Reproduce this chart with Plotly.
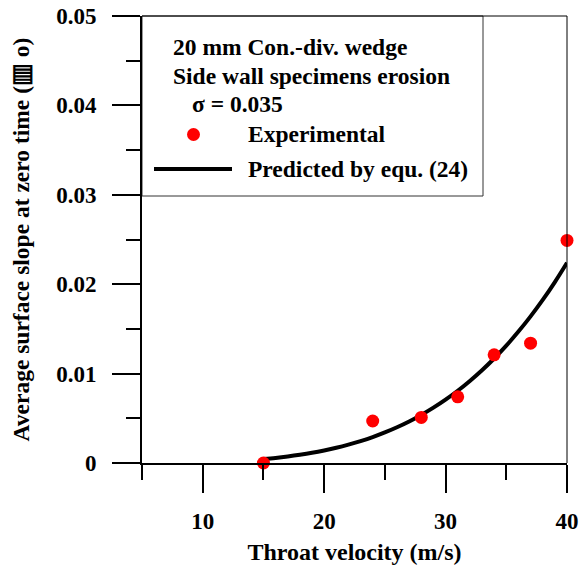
import plotly.graph_objects as go

# Experimental data
exp_x = [15, 24, 28, 31, 34, 37, 40]
exp_y = [0.0, 0.0047, 0.0051, 0.0074, 0.0121, 0.0134, 0.0249]

# Predicted curve
pred_x = [15, 16, 17, 18, 19, 20, 21, 22, 23, 24, 25, 26, 27, 28, 29, 30,
          31, 32, 33, 34, 35, 36, 37, 38, 39, 40]
pred_y = [0.00044, 0.00057, 0.00073, 0.00092, 0.00114, 0.00140, 0.00170,
          0.00205, 0.00245, 0.00290, 0.00342, 0.00400, 0.00465, 0.00538,
          0.00619, 0.00709, 0.00808, 0.00918, 0.01038, 0.01169, 0.01313,
          0.01470, 0.01640, 0.01824, 0.02024, 0.02240]

x_ticks = [10, 20, 30, 40]
y_ticks = [0, 0.01, 0.02, 0.03, 0.04, 0.05]
y_tick_labels = ["0", "0.01", "0.02", "0.03", "0.04", "0.05"]

legend_lines = ["20 mm Con.-div. wedge", "Side wall specimens erosion", "σ = 0.035"]
legend_exp = "Experimental"
legend_pred = "Predicted by equ. (24)"

W, H = 585, 565
L, R, T, B = 142, 567, 16, 463
FONT = "Liberation Serif"


def px(x):
    return (x - L) / (R - L)


def py(y):
    return (B - y) / (B - T)


fig = go.Figure()
fig.add_trace(go.Scatter(x=pred_x, y=pred_y, mode="lines",
                         line=dict(color="black", width=4, shape="spline"),
                         showlegend=False, cliponaxis=False))
fig.add_trace(go.Scatter(x=exp_x, y=exp_y, mode="markers",
                         marker=dict(color="#ff0000", size=13),
                         showlegend=False, cliponaxis=False))

fig.update_layout(
    width=W, height=H,
    margin=dict(l=L, r=W - R, t=T, b=H - B, autoexpand=False),
    paper_bgcolor="white", plot_bgcolor="white",
    font=dict(family=FONT, size=23, color="black", weight="bold"),
    showlegend=False,
)

fig.update_xaxes(
    range=[5, 40], tickmode="array", tickvals=x_ticks,
    ticks="outside", ticklen=28, tickwidth=2, tickcolor="black",
    minor=dict(tickmode="array", tickvals=[5, 15, 25, 35], ticks="outside",
               ticklen=15, tickwidth=2, tickcolor="black"),
    showline=True, linewidth=2, linecolor="black", mirror=False,
    showgrid=False, zeroline=False, automargin=False,
    tickfont=dict(family=FONT, size=23, weight="bold"),
    ticklabelstandoff=8,
    title=dict(text="Throat velocity (m/s)", standoff=14,
               font=dict(family=FONT, size=24, weight="bold")),
)
fig.update_yaxes(
    range=[0, 0.05], tickmode="array", tickvals=y_ticks, ticktext=y_tick_labels,
    ticks="outside", ticklen=28, tickwidth=2, tickcolor="black",
    minor=dict(tickmode="array", tickvals=[0.005, 0.015, 0.025, 0.035, 0.045],
               ticks="outside", ticklen=14, tickwidth=2, tickcolor="black"),
    showline=True, linewidth=2, linecolor="black", mirror=False,
    showgrid=False, zeroline=False, automargin=False,
    tickfont=dict(family=FONT, size=23, weight="bold"),
    ticklabelstandoff=11,
    title=dict(text="Average surface slope at zero time (▥ o)", standoff=20,
               font=dict(family=FONT, size=23.5, weight="bold")),
)

shapes = [
    # top and right borders
    dict(type="line", xref="paper", yref="paper", x0=0, x1=1, y0=1, y1=1,
         line=dict(color="black", width=1)),
    dict(type="line", xref="paper", yref="paper", x0=1, x1=1, y0=0, y1=1,
         line=dict(color="black", width=1)),
    # legend box
    dict(type="rect", xref="paper", yref="paper", x0=px(142), x1=px(483),
         y0=py(196), y1=py(16), line=dict(color="#333333", width=1),
         fillcolor="white", layer="below"),
    # legend line sample
    dict(type="line", xref="paper", yref="paper", x0=px(154), x1=px(232),
         y0=py(169), y1=py(169), line=dict(color="black", width=4)),
    # legend marker sample
    dict(type="circle", xref="paper", yref="paper",
         x0=px(187), x1=px(200), y0=py(141), y1=py(128),
         fillcolor="#ff0000", line=dict(color="#ff0000", width=0)),
]
fig.update_layout(shapes=shapes)

ann_specs = [
    (legend_lines[0], 171, 47),
    (legend_lines[1], 171, 76),
    (legend_lines[2], 190, 104),
    (legend_exp, 246, 134),
    (legend_pred, 246, 169),
]
for text, x, y in ann_specs:
    fig.add_annotation(text=text, xref="paper", yref="paper", x=px(x), y=py(y),
                       xanchor="left", yanchor="middle", showarrow=False,
                       font=dict(family=FONT, size=23.5, weight="bold", color="black"))

fig.write_html("out.html")
